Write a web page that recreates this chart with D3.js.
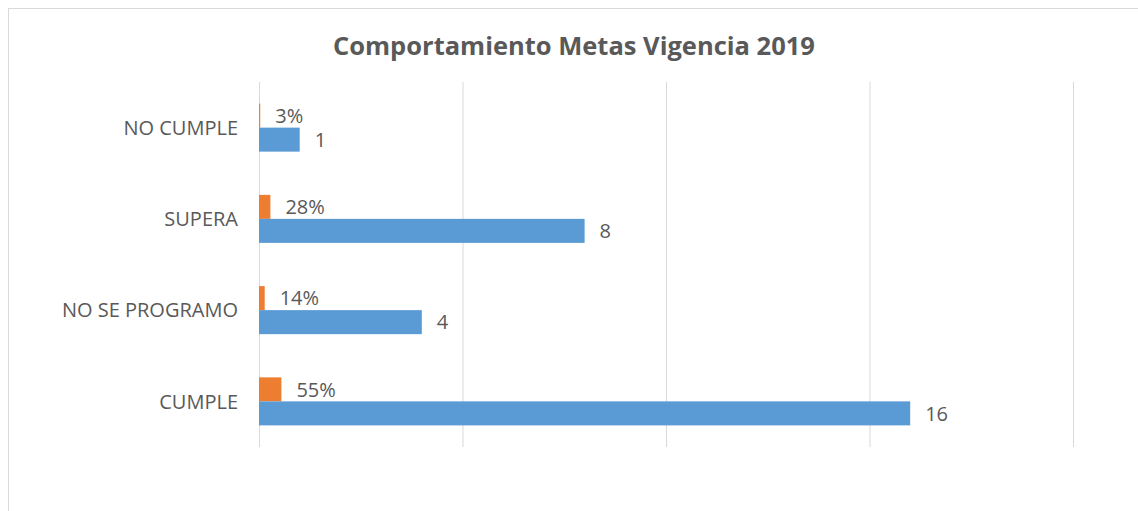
<!DOCTYPE html>
<html>
<head>
<meta charset="utf-8">
<script src="https://cdn.jsdelivr.net/npm/d3@7"></script>
<style>
  body { margin: 0; background: #fff; }
  text { font-family: "Open Sans", sans-serif; fill: #595959; }
</style>
</head>
<body>
<svg id="chart"></svg>
<script>
const categories = ["NO CUMPLE", "SUPERA", "NO SE PROGRAMO", "CUMPLE"];
const counts = [1, 8, 4, 16];
const shares = [0.03, 0.28, 0.14, 0.55];
const xTicks = [0, 5, 10, 15, 20];

const fullWidth = 1138;
const fullHeight = 511;
const margin = {top: 82, right: 65, bottom: 64, left: 259};

const svg = d3.select('#chart')
  .attr('width', fullWidth)
  .attr('height', fullHeight);

// chart frame (only top and left edges visible)
svg.append('rect')
  .attr('x', 8.5).attr('y', 8.5)
  .attr('width', 1200).attr('height', 600)
  .attr('fill', 'none')
  .attr('stroke', '#d9d9d9');

svg.append('text')
  .attr('x', 574).attr('y', 48)
  .attr('text-anchor', 'middle')
  .attr('dominant-baseline', 'middle')
  .style('font-size', '25.5px')
  .style('font-weight', 'bold')
  .text('Comportamiento Metas Vigencia 2019');

const x = d3.scaleLinear().domain([0, 20]).range([margin.left, fullWidth - margin.right]);
const y = d3.scaleBand().domain(categories).range([margin.top, fullHeight - margin.bottom]);
const ySub = d3.scaleBand().domain(['share', 'count']).range([0, y.bandwidth()]).paddingOuter(0.9);

// gridlines
svg.append('g')
  .selectAll('line')
  .data(xTicks)
  .enter().append('line')
    .attr('x1', d => x(d) + 0.5).attr('x2', d => x(d) + 0.5)
    .attr('y1', margin.top).attr('y2', fullHeight - margin.bottom)
    .attr('stroke', '#d9d9d9');

const rows = categories.map((c, i) => ({cat: c, count: counts[i], share: shares[i]}));

const groups = svg.append('g')
  .selectAll('g')
  .data(rows)
  .enter().append('g')
    .attr('transform', d => 'translate(0,' + y(d.cat) + ')');

groups.append('rect')
  .attr('x', x(0))
  .attr('y', ySub('share'))
  .attr('width', d => x(d.share) - x(0))
  .attr('height', ySub.bandwidth())
  .attr('fill', '#ed7d31');

groups.append('rect')
  .attr('x', x(0))
  .attr('y', ySub('count'))
  .attr('width', d => x(d.count) - x(0))
  .attr('height', ySub.bandwidth())
  .attr('fill', '#5b9bd5');

groups.append('text')
  .attr('x', d => x(d.share) + 15)
  .attr('y', ySub('share') + ySub.bandwidth() / 2 + 2)
  .attr('dominant-baseline', 'middle')
  .style('font-size', '20px')
  .text(d => d3.format('.0%')(d.share));

groups.append('text')
  .attr('x', d => x(d.count) + 15)
  .attr('y', ySub('count') + ySub.bandwidth() / 2 + 2)
  .attr('dominant-baseline', 'middle')
  .style('font-size', '20px')
  .text(d => d.count);

// category labels
svg.append('g')
  .selectAll('text')
  .data(categories)
  .enter().append('text')
    .attr('x', margin.left - 21)
    .attr('y', d => y(d) + y.bandwidth() / 2 + 2)
    .attr('text-anchor', 'end')
    .attr('dominant-baseline', 'middle')
    .style('font-size', '20px')
    .text(d => d);
</script>
</body>
</html>
